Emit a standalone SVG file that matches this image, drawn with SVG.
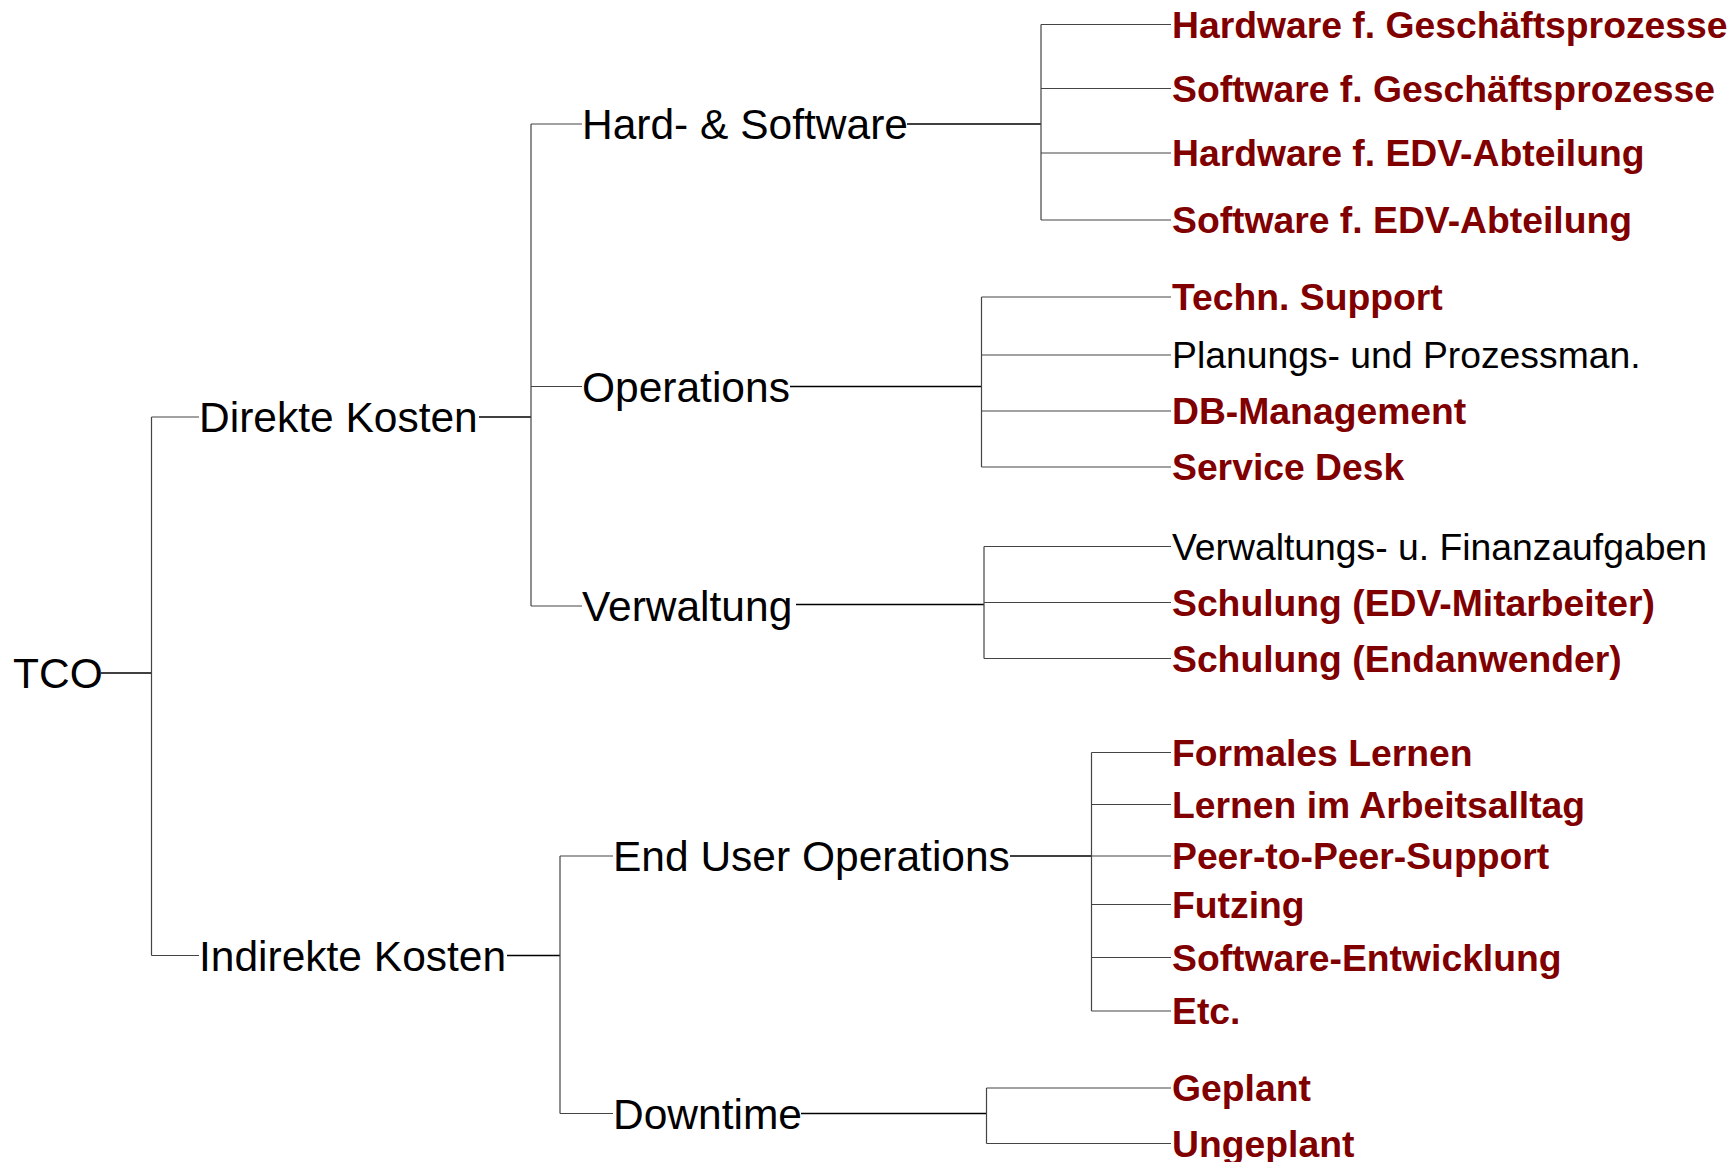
<svg xmlns="http://www.w3.org/2000/svg" width="1736" height="1162" viewBox="0 0 1736 1162">
<style>
.bg{fill:#fff}
.c{fill:none;stroke:#000;stroke-width:1.6}
.b{fill:none;stroke:#444;stroke-width:1.2}
.n{font-family:"Liberation Sans",Arial,sans-serif;font-size:42.5px;fill:#000}
.l{font-family:"Liberation Sans",Arial,sans-serif;font-size:37.3px;fill:#000}
.r{font-family:"Liberation Sans",Arial,sans-serif;font-size:37.3px;font-weight:bold;fill:#800000}
</style>
<rect class="bg" x="0" y="0" width="1736" height="1162"/>
<g id="connectors">
<path class="c" d="M101,673H151.5"/>
<path class="b" d="M151.5,417V955.5M151.5,417H199M151.5,955.5H199"/>
<path class="c" d="M479,417H531"/>
<path class="b" d="M531,124V606M531,124H582M531,386.5H582M531,606H582"/>
<path class="c" d="M907,124H1041"/>
<path class="b" d="M1041,24.5V220M1041,24.5H1171M1041,88.5H1171M1041,153H1171M1041,220H1171"/>
<path class="c" d="M790,386.5H981.5"/>
<path class="b" d="M981.5,297V467M981.5,297H1171M981.5,355H1171M981.5,411H1171M981.5,467H1171"/>
<path class="c" d="M796,604.5H984"/>
<path class="b" d="M984,546.5V658.5M984,546.5H1171M984,602.5H1171M984,658.5H1171"/>
<path class="c" d="M507,955.5H560"/>
<path class="b" d="M560,856V1113.5M560,856H613M560,1113.5H613"/>
<path class="c" d="M1010,856H1091.5"/>
<path class="b" d="M1091.5,752.5V1011M1091.5,752.5H1171M1091.5,804.5H1171M1091.5,856H1171M1091.5,904.5H1171M1091.5,957.5H1171M1091.5,1011H1171"/>
<path class="c" d="M801,1113.5H986.5"/>
<path class="b" d="M986.5,1088V1143.5M986.5,1088H1171M986.5,1143.5H1171"/>
</g>
<g id="tco"><text class="n" x="13" y="688">TCO</text></g>
<g id="direkte"><text class="n" x="199" y="432">Direkte Kosten</text></g>
<g id="indirekte"><text class="n" x="199" y="970.5">Indirekte Kosten</text></g>
<g id="hardsoft"><text class="n" x="582" y="139">Hard- &amp; Software</text></g>
<g id="operations"><text class="n" x="582" y="401.5">Operations</text></g>
<g id="verwaltung"><text class="n" x="582" y="620.5">Verwaltung</text></g>
<g id="euo"><text class="n" x="613" y="871">End User Operations</text></g>
<g id="downtime"><text class="n" x="613" y="1128.5">Downtime</text></g>
<g id="hw-gp"><text class="r" x="1172" y="37.5">Hardware f. Geschäftsprozesse</text></g>
<g id="sw-gp"><text class="r" x="1172" y="101.5">Software f. Geschäftsprozesse</text></g>
<g id="hw-edv"><text class="r" x="1172" y="166">Hardware f. EDV-Abteilung</text></g>
<g id="sw-edv"><text class="r" x="1172" y="233">Software f. EDV-Abteilung</text></g>
<g id="techn"><text class="r" x="1172" y="310">Techn. Support</text></g>
<g id="planung"><text class="l" x="1172" y="368">Planungs- und Prozessman.</text></g>
<g id="db"><text class="r" x="1172" y="424">DB-Management</text></g>
<g id="sd"><text class="r" x="1172" y="480">Service Desk</text></g>
<g id="vwf"><text class="l" x="1172" y="559.5">Verwaltungs- u. Finanzaufgaben</text></g>
<g id="sch-edv"><text class="r" x="1172" y="615.5">Schulung (EDV-Mitarbeiter)</text></g>
<g id="sch-end"><text class="r" x="1172" y="671.5">Schulung (Endanwender)</text></g>
<g id="formal"><text class="r" x="1172" y="765.5">Formales Lernen</text></g>
<g id="alltag"><text class="r" x="1172" y="817.5">Lernen im Arbeitsalltag</text></g>
<g id="p2p"><text class="r" x="1172" y="869">Peer-to-Peer-Support</text></g>
<g id="futzing"><text class="r" x="1172" y="917.5">Futzing</text></g>
<g id="swe"><text class="r" x="1172" y="970.5">Software-Entwicklung</text></g>
<g id="etc"><text class="r" x="1172" y="1024">Etc.</text></g>
<g id="geplant"><text class="r" x="1172" y="1101">Geplant</text></g>
<g id="ungeplant"><text class="r" x="1172" y="1156.5">Ungeplant</text></g>
</svg>
